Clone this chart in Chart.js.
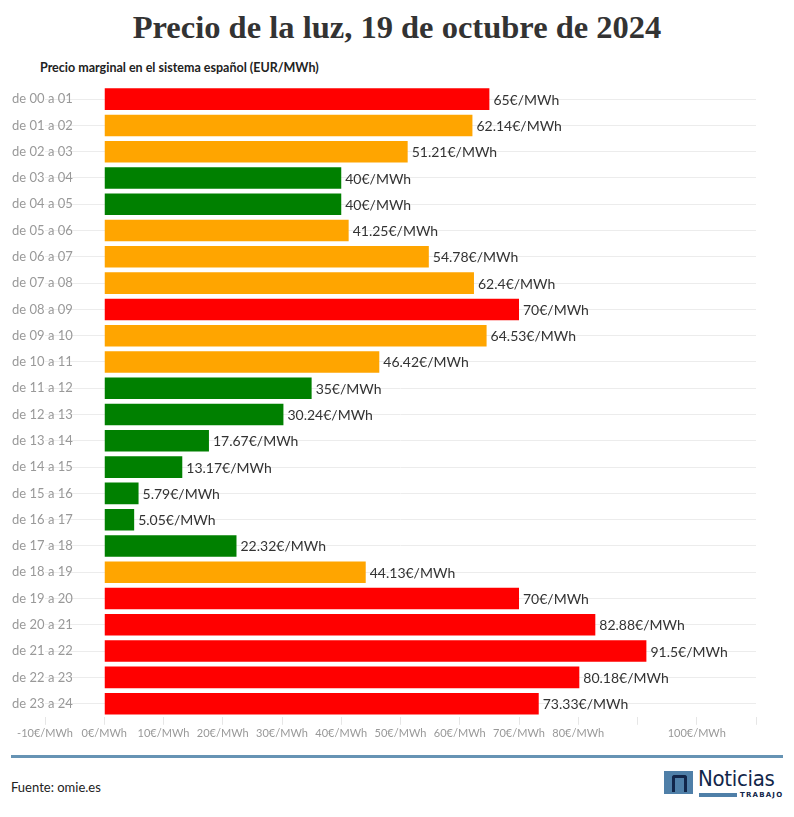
<!DOCTYPE html>
<html lang="es">
<head>
  <meta charset="UTF-8" />
  <title>Precio de la luz</title>
  <script src="https://cdn.jsdelivr.net/npm/chart.js"></script>
  <style>
    body {
      margin: 0;
      width: 794px;
      height: 817px;
      background: #fff;
      position: relative;
      font-family: 'Lato', sans-serif;
    }
    h1 {
      position: absolute;
      top: 9px;
      left: 0;
      width: 794px;
      margin: 0;
      text-align: center;
      font-family: 'Liberation Serif', serif;
      font-weight: bold;
      font-size: 32.5px;
      color: #333;
    }
    #subtitle {
      position: absolute;
      top: 60px;
      left: 40px;
      font-weight: bold;
      font-size: 12.5px;
      color: #222;
    }
    #chart-container {
      position: absolute;
      top: 78px;
      left: 0;
      width: 794px;
      height: 664px;
    }
    #rule {
      position: absolute;
      top: 755px;
      left: 11px;
      width: 772px;
      height: 3px;
      background: #6693b4;
    }
    #source {
      position: absolute;
      top: 779px;
      left: 11px;
      font-size: 13px;
      color: #222;
    }
    #logo {
      position: absolute;
      top: 771px;
      left: 664px;
      width: 120px;
      height: 30px;
    }
    #logo .sq {
      position: absolute;
      left: 0; top: 0;
      width: 29px; height: 23px;
      background: #4f7fa8;
    }
    #logo .sq::after {
      content: '';
      position: absolute;
      left: 8px; top: 4px;
      width: 9px; height: 14px;
      border: 3px solid #12264a;
      border-bottom: none;
      border-radius: 3px 3px 0 0;
    }
    #logo .name {
      position: absolute;
      left: 34px; top: -5px;
      font: 22px 'DejaVu Sans Condensed', sans-serif;
      color: #12264a;
      letter-spacing: -0.3px;
    }
    #logo .bar {
      position: absolute;
      left: 35px; top: 22px;
      width: 38px; height: 4px;
      background: #4f7fa8;
    }
    #logo .sub {
      position: absolute;
      left: 76px; top: 20px;
      font: bold 7px 'DejaVu Sans', sans-serif;
      color: #12264a;
      letter-spacing: 1.2px;
    }
  </style>
</head>
<body>
  <h1>Precio de la luz, 19 de octubre de 2024</h1>
  <div id="subtitle">Precio marginal en el sistema español (EUR/MWh)</div>
  <div id="chart-container">
    <canvas id="priceChart"></canvas>
  </div>
  <div id="rule"></div>
  <div id="source">Fuente: omie.es</div>
  <div id="logo">
    <div class="sq"></div>
    <div class="name">Noticias</div>
    <div class="bar"></div>
    <div class="sub">TRABAJO</div>
  </div>

  <script>
    const hours = [
      'de 00 a 01', 'de 01 a 02', 'de 02 a 03', 'de 03 a 04', 'de 04 a 05', 'de 05 a 06',
      'de 06 a 07', 'de 07 a 08', 'de 08 a 09', 'de 09 a 10', 'de 10 a 11', 'de 11 a 12',
      'de 12 a 13', 'de 13 a 14', 'de 14 a 15', 'de 15 a 16', 'de 16 a 17', 'de 17 a 18',
      'de 18 a 19', 'de 19 a 20', 'de 20 a 21', 'de 21 a 22', 'de 22 a 23', 'de 23 a 24'
    ];
    const prices = [
      65, 62.14, 51.21, 40, 40, 41.25,
      54.78, 62.4, 70, 64.53, 46.42, 35,
      30.24, 17.67, 13.17, 5.79, 5.05, 22.32,
      44.13, 70, 82.88, 91.5, 80.18, 73.33
    ];
    const hiddenTicks = [90, 110];

    function priceColor(v) {
      if (v <= 40) return '#008000';
      if (v < 65) return '#ffa500';
      return '#ff0000';
    }

    const valueLabels = {
      id: 'valueLabels',
      afterDatasetsDraw(chart) {
        const ctx = chart.ctx;
        const meta = chart.getDatasetMeta(0);
        ctx.save();
        ctx.font = '14px Lato, sans-serif';
        ctx.fillStyle = '#333';
        ctx.textBaseline = 'middle';
        ctx.textAlign = 'left';
        meta.data.forEach((bar, i) => {
          ctx.fillText(prices[i] + '€/MWh', bar.x + 4, bar.y + 1);
        });
        ctx.restore();
      }
    };

    const ctx = document.getElementById('priceChart').getContext('2d');
    const priceChart = new Chart(ctx, {
      type: 'bar',
      data: {
        labels: hours,
        datasets: [{
          data: prices,
          backgroundColor: prices.map(priceColor),
          barPercentage: 0.82,
          categoryPercentage: 1
        }]
      },
      options: {
        indexAxis: 'y',
        responsive: true,
        maintainAspectRatio: false,
        animation: false,
        layout: { padding: { left: 45, right: 38, top: 8, bottom: 0 } },
        plugins: {
          legend: { display: false },
          tooltip: { enabled: false }
        },
        scales: {
          x: {
            min: -10,
            max: 110,
            border: { display: false },
            grid: {
              drawOnChartArea: false,
              drawTicks: true,
              tickLength: 8,
              color: '#e6e6e6'
            },
            ticks: {
              stepSize: 10,
              maxRotation: 0,
              autoSkip: false,
              padding: 2,
              color: '#999',
              font: { family: 'Lato', size: 11 },
              callback: (v) => hiddenTicks.includes(v) ? '' : v + '€/MWh'
            }
          },
          y: {
            border: { display: false },
            afterFit: (scale) => { scale.width = 0; },
            grid: {
              offset: false,
              drawTicks: false,
              color: '#ececec'
            },
            ticks: {
              mirror: true,
              padding: -33,
              color: '#999',
              font: { family: 'Lato', size: 13 }
            }
          }
        }
      },
      plugins: [valueLabels]
    });
  </script>
</body>
</html>
